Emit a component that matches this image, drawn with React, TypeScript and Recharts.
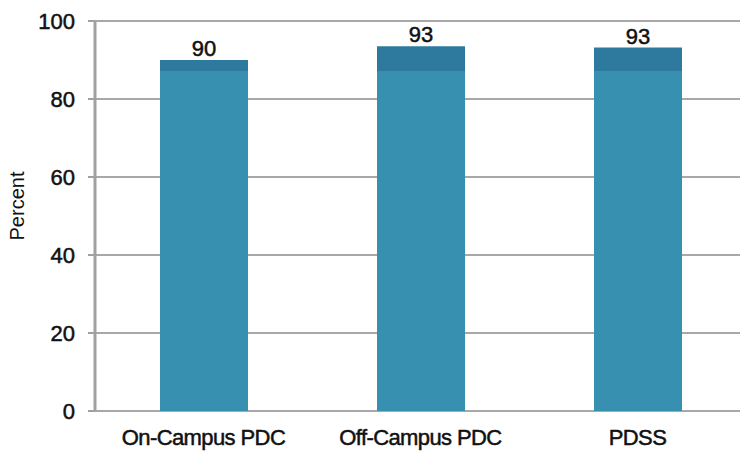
import { BarChart, Bar, XAxis, YAxis, CartesianGrid, LabelList } from 'recharts';

const programs = ['On-Campus PDC', 'Off-Campus PDC', 'PDSS'];
const percents = [90, 93.5, 93.2];
const valueLabels = ['90', '93', '93'];
const yTicks = [0, 20, 40, 60, 80, 100];
const boundaryTicks = [0, 1, 2, 3];

const data = programs.map((name, i) => ({ name, value: percents[i], label: valueLabels[i], pos: i }));

const FONT = '"Liberation Sans", Arial, sans-serif';
const TOP = 21;
const PLOT_H = 390;
// darker band near the top of the bars in the original
const bandEdge = TOP + ((100 - 87.3) / 100) * PLOT_H;

const heavyText = { fill: '#111', stroke: '#111', strokeWidth: 0.5, fontSize: 22 };

export default function App() {
  return (
    <div style={{ position: 'absolute', left: 0, top: 0, width: 740, height: 459, overflow: 'hidden', background: '#fff' }}>
      <BarChart
        width={746}
        height={459}
        data={data}
        margin={{ top: TOP, right: 0, bottom: 0, left: 0 }}
        style={{ fontFamily: FONT }}
      >
        <defs>
          <linearGradient id="barFill" gradientUnits="userSpaceOnUse" x1="0" y1="0" x2="0" y2="459">
            <stop offset={bandEdge / 459} stopColor="#2e7a9e" />
            <stop offset={bandEdge / 459} stopColor="#3790b0" />
          </linearGradient>
        </defs>
        <CartesianGrid vertical={false} stroke="#a8a8a8" strokeWidth={2} />
        <XAxis
          xAxisId="b"
          type="number"
          dataKey="pos"
          domain={[0, 3]}
          ticks={boundaryTicks}
          height={0}
          tickSize={6}
          tickFormatter={() => ''}
          axisLine={{ stroke: '#a0a0a0', strokeWidth: 2 }}
          tickLine={{ stroke: '#a0a0a0', strokeWidth: 2 }}
        />
        <XAxis
          dataKey="name"
          height={48}
          axisLine={false}
          tickLine={false}
          tickMargin={12}
          tick={{ ...heavyText, letterSpacing: -0.6 }}
          interval={0}
        />
        <YAxis
          domain={[0, 100]}
          ticks={yTicks}
          width={95}
          tickSize={7}
          tickMargin={13}
          axisLine={{ stroke: '#a0a0a0', strokeWidth: 3 }}
          tickLine={{ stroke: '#a0a0a0', strokeWidth: 2 }}
          tick={heavyText}
        />
        <Bar dataKey="value" barSize={88} fill="url(#barFill)" isAnimationActive={false}>
          <LabelList
            dataKey="label"
            position="top"
            offset={4}
            style={{ ...heavyText, fontFamily: FONT }}
          />
        </Bar>
      </BarChart>
      {/* y axis title */}
      <div
        style={{
          position: 'absolute',
          left: 17,
          top: 206,
          transform: 'translate(-50%, -50%) rotate(-90deg)',
          fontFamily: FONT,
          fontSize: 20,
          color: '#111',
          whiteSpace: 'nowrap',
          lineHeight: 1,
        }}
      >
        Percent
      </div>
    </div>
  );
}
